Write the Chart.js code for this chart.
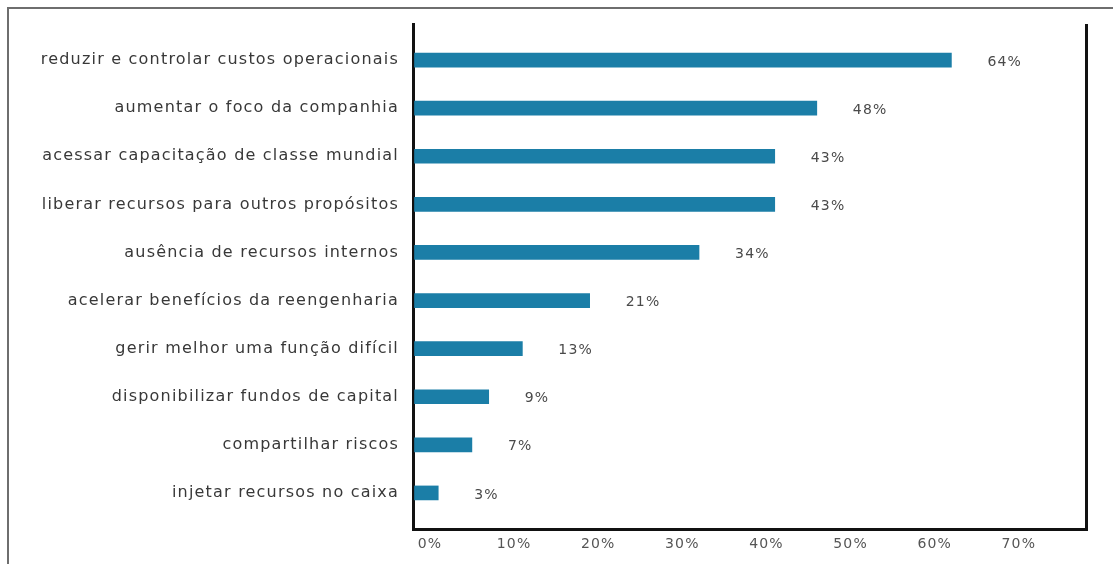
<!DOCTYPE html>
<html>
<head>
<meta charset="utf-8">
<script src="https://cdn.jsdelivr.net/npm/chart.js@4"></script>
<style>
  html, body { margin: 0; padding: 0; background: #fff; }
  #wrap { position: relative; width: 1113px; height: 564px; overflow: hidden; }
  #frame {
    position: absolute; left: 7px; top: 7px; width: 1200px; height: 700px;
    border-top: 2px solid #6e6e6e; border-left: 2px solid #6e6e6e;
    pointer-events: none;
  }
</style>
</head>
<body>
<div id="wrap">
  <canvas id="motivos" width="1113" height="564"></canvas>
  <div id="frame"></div>
</div>
<script>
(function () {
  const categories = [
    "reduzir e controlar custos operacionais",
    "aumentar o foco da companhia",
    "acessar capacitação de classe mundial",
    "liberar recursos para outros propósitos",
    "ausência de recursos internos",
    "acelerar benefícios da reengenharia",
    "gerir melhor uma função difícil",
    "disponibilizar fundos de capital",
    "compartilhar riscos",
    "injetar recursos no caixa",
  ];
  const percentages = [64, 48, 43, 43, 34, 21, 13, 9, 7, 3];

  const AXIS = "#111";

  // wide, slightly spaced lettering for every text on the canvas
  const spacing = {
    id: "spacing",
    beforeDraw(chart) {
      chart.ctx.letterSpacing = "1.2px";
    },
  };

  // percentage printed to the right of each bar
  const valueLabels = {
    id: "valueLabels",
    afterDatasetsDraw(chart) {
      const ctx = chart.ctx;
      ctx.save();
      ctx.font = "14px 'DejaVu Sans'";
      ctx.fillStyle = "#4a4a4a";
      ctx.textAlign = "left";
      ctx.textBaseline = "middle";
      chart.getDatasetMeta(0).data.forEach((bar, i) => {
        ctx.fillText(percentages[i] + "%", bar.x + 36, bar.y + 2);
      });
      ctx.restore();
    },
  };

  new Chart(document.getElementById("motivos"), {
    type: "bar",
    data: {
      datasets: [
        {
          data: percentages.map((v, i) => ({ x: v, y: i })),
          backgroundColor: "#1b7ea7",
          barThickness: 14,
        },
      ],
    },
    options: {
      indexAxis: "y",
      responsive: false,
      animation: false,
      layout: { padding: { top: 24, right: 27, bottom: 0, left: 0 } },
      plugins: {
        legend: { display: false },
        tooltip: { enabled: false },
      },
      scales: {
        x: {
          type: "linear",
          min: 0,
          max: 80,
          afterFit: (scale) => { scale.height = 35; },
          ticks: {
            stepSize: 10,
            padding: 7,
            labelOffset: 17,
            color: "#555",
            font: { family: "DejaVu Sans", size: 14 },
            callback: (v) => (v === 80 ? "" : v + "%"),
          },
          grid: {
            drawTicks: false,
            lineWidth: 3,
            color: (c) => (c.tick && c.tick.value === 80 ? AXIS : "transparent"),
          },
          border: { display: true, color: AXIS, width: 3 },
        },
        y: {
          type: "linear",
          reverse: true,
          offset: false,
          min: -0.75,
          max: 9.75,
          afterFit: (scale) => { scale.width = 413; },
          ticks: {
            stepSize: 1,
            autoSkip: false,
            padding: 14,
            color: "#383838",
            font: { family: "DejaVu Sans", size: 16 },
            callback: (v) => (Number.isInteger(v) ? categories[v] : ""),
          },
          grid: { display: false, drawTicks: false },
          border: { display: true, color: AXIS, width: 3 },
        },
      },
    },
    plugins: [spacing, valueLabels],
  });
})();
</script>
</body>
</html>
